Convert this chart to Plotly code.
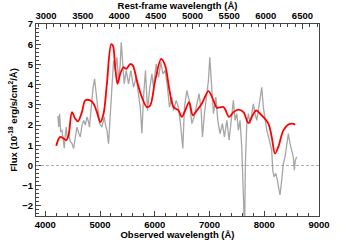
import plotly.graph_objects as go

ONE_PLUS_Z = 1.338

obs_wave = [4230, 4245, 4261, 4280, 4304, 4325, 4347, 4365, 4383, 4405, 4426, 4455, 4487, 4517,
            4545, 4578, 4610, 4639, 4670, 4700, 4730, 4761, 4785, 4808, 4830, 4852, 4875, 4900,
            4920, 4943, 4965, 4991, 5034, 5077, 5100, 5126, 5155, 5186, 5217, 5247, 5277, 5308,
            5338, 5369, 5387, 5418, 5442, 5478, 5520, 5564, 5611, 5661, 5703, 5734, 5765, 5794,
            5830, 5867, 5903, 5947, 5976, 6026, 6068, 6112, 6148, 6190, 6232, 6268, 6312, 6341,
            6390, 6432, 6476, 6512, 6542, 6585, 6628, 6677, 6719, 6768, 6810, 6847, 6871, 6907,
            6951, 6980, 7005, 7042, 7071, 7115, 7151, 7193, 7235, 7272, 7316, 7358, 7394, 7436,
            7467, 7498, 7527, 7558, 7589, 7607, 7619, 7632, 7644, 7655, 7681, 7710, 7741, 7772,
            7801, 7832, 7863, 7892, 7923, 7954, 7983, 8014, 8046, 8093, 8136, 8155, 8179, 8210,
            8240, 8270, 8288, 8319, 8349, 8380, 8410, 8440, 8471, 8501, 8531, 8549, 8568, 8593]
obs_flux = [2.45, 1.9, 2.56, 1.7, 1.74, 1.2, 0.85, 1.5, 1.9, 1.3, 1.58, 1.2, 1.08, 0.84,
            1.3, 1.9, 1.6, 1.41, 2.0, 2.23, 2.0, 2.4, 2.2, 1.9, 2.6, 3.38, 3.9, 4.29,
            3.8, 3.38, 2.6, 2.07, 1.9, 2.4, 2.0, 1.74, 1.08, 2.4, 4.2, 5.19, 4.7, 5.35,
            4.2, 5.02, 6.09, 4.86, 4.04, 4.7, 4.04, 4.7, 3.87, 4.36, 3.38, 2.89, 1.58, 3.38,
            4.7, 2.72, 3.71, 4.53, 3.87, 5.02, 4.36, 5.1, 4.53, 4.7, 3.87, 2.89, 3.38, 2.72,
            3.22, 2.89, 1.9, 0.84, 2.89, 3.71, 3.22, 2.07, 2.4, 3.05, 3.55, 2.72, 1.41, 2.56,
            3.71, 4.2, 5.35, 3.71, 2.56, 3.38, 2.23, 1.58, 2.07, 1.41, 2.23, 1.25, 2.07, 3.22,
            2.23, 2.56, 1.74, 2.23, 0.92, -0.72, -2.6, -2.6, -2.6, 0.1, 2.07, 2.56, 2.07, 2.72,
            3.05, 2.56, 2.23, 2.72, 3.22, 3.87, 2.89, 2.23, 1.74, 1.25, 0.75, -0.23, -0.56, -0.39,
            -0.72, -1.22, -1.46, -0.72, 0.1, 0.42, 0.92, 1.58, 1.08, 0.75, 0.42, -0.23, 0.26, 0.42]

model_wave = [4200, 4240, 4274, 4335, 4383, 4425, 4487, 4547, 4596, 4669, 4730, 4821, 4882,
              4943, 5004, 5064, 5125, 5204, 5235, 5277, 5320, 5369, 5429, 5478, 5551, 5600,
              5673, 5764, 5855, 5916, 6007, 6117, 6190, 6269, 6342, 6433, 6494, 6555, 6628,
              6695, 6768, 6859, 6981, 7072, 7133, 7255, 7358, 7437, 7528, 7620, 7710, 7789,
              7850, 7953, 8075, 8136, 8197, 8257, 8349, 8440, 8500, 8568]
model_flux = [0.97, 1.3, 1.41, 1.33, 1.25, 1.5, 2.64, 2.31, 2.18, 2.64, 3.22, 3.22, 3.05,
              2.64, 2.15, 2.56, 4.04, 6.0, 5.93, 4.86, 4.04, 4.53, 4.86, 4.78, 5.02, 4.94,
              4.2, 3.38, 2.89, 2.97, 4.2, 5.27, 4.94, 3.71, 2.89, 2.72, 2.4, 2.72, 3.13,
              2.48, 2.72, 3.05, 3.68, 3.22, 2.86, 2.89, 2.4, 2.64, 2.76, 2.64, 2.1, 2.48,
              2.72, 2.48, 2.07, 1.41, 0.59, 0.92, 1.74, 2.03, 2.07, 2.02]

x_range = [3830, 9000]
y_range = [-2.5, 7]

font = dict(family="Liberation Sans, Arial, sans-serif", size=9.5, color="black", weight="bold")

fig = go.Figure()
fig.add_trace(go.Scatter(x=obs_wave, y=obs_flux, mode="lines",
                         line=dict(color="#a6a6a6", width=1.3), showlegend=False))
fig.add_trace(go.Scatter(x=model_wave, y=model_flux, mode="lines",
                         line=dict(color="#ff0000", width=1.8, shape="spline", smoothing=0.9),
                         showlegend=False))
# invisible trace to activate rest-frame axis
fig.add_trace(go.Scatter(x=[w / ONE_PLUS_Z for w in model_wave], y=model_flux, xaxis="x2",
                         mode="lines", line=dict(width=0), opacity=0, showlegend=False,
                         hoverinfo="skip"))

fig.add_shape(type="line", xref="paper", x0=0, x1=1, yref="y", y0=0, y1=0,
              line=dict(color="#9a9a9a", width=0.8, dash="3px,2px"))

fig.update_layout(
    width=355, height=240,
    margin=dict(l=36, r=36, t=24, b=24),
    paper_bgcolor="white", plot_bgcolor="white",
    font=font,
    xaxis=dict(range=x_range, dtick=1000, tick0=0, ticks="inside", ticklen=5, tickwidth=1,
               tickcolor="#444", showline=True, linecolor="#444", linewidth=1, showgrid=False,
               zeroline=False, mirror=False, automargin=False,
               minor=dict(dtick=200, ticks="inside", ticklen=3, tickcolor="#444", showgrid=False),
               title=dict(text="Observed wavelength (Å)", font=font, standoff=0),
               tickfont=font),
    xaxis2=dict(range=[x_range[0] / ONE_PLUS_Z, x_range[1] / ONE_PLUS_Z], overlaying="x",
                side="top", anchor="y", dtick=500, tick0=0, ticks="inside", ticklen=5,
                tickcolor="#444", showline=True, linecolor="#444", linewidth=1, showgrid=False,
                zeroline=False, automargin=False,
                minor=dict(dtick=100, ticks="inside", ticklen=3, tickcolor="#444", showgrid=False),
                title=dict(text="Rest-frame wavelength (Å)", font=font, standoff=1),
                tickfont=font),
    yaxis=dict(range=y_range, dtick=1, tick0=0, ticks="inside", ticklen=5, tickcolor="#444",
               showline=True, linecolor="#444", linewidth=1, mirror=True, showgrid=False,
               zeroline=False, automargin=False,
               minor=dict(dtick=0.2, ticks="inside", ticklen=3, tickcolor="#444", showgrid=False),
               title=dict(text="Flux (10<sup>-18</sup> erg/s/cm<sup>2</sup>/Å)", font=font,
                          standoff=2),
               tickfont=font),
)

fig.write_html("out.html", config={"displayModeBar": False},
               post_script="document.body.style.margin='0';")
